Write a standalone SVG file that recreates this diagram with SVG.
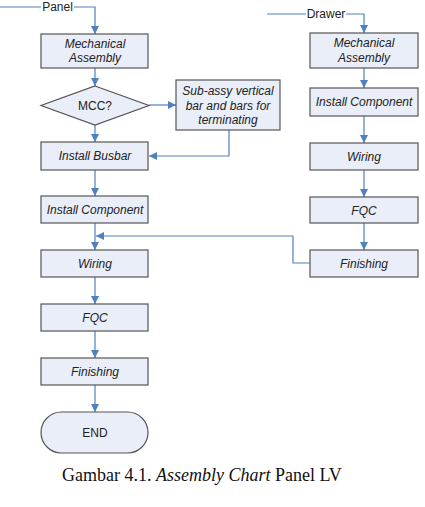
<svg xmlns="http://www.w3.org/2000/svg" width="425" height="507" viewBox="0 0 425 507">
<style>
.box{fill:#e9eef8;stroke:#555;stroke-width:1.2}
.t{font-family:"Liberation Sans",Arial,sans-serif;font-size:12px;fill:#222;text-anchor:middle}
.i{font-style:italic}
.c{fill:none;stroke:#4f81bd;stroke-width:1.2}
.cap{font-family:"Liberation Serif","Times New Roman",serif;font-size:18px;fill:#111}
</style>
<defs>
<marker id="a" viewBox="0 0 10 10" refX="10" refY="5" markerWidth="8" markerHeight="8" markerUnits="userSpaceOnUse" orient="auto">
<path d="M0,0 L10,5 L0,10 z" fill="#4f81bd"/>
</marker>
</defs>
<rect width="425" height="507" fill="#fff"/>
<g id="connectors">
<path class="c" d="M0,7 H41 M74,7 H95 V34" marker-end="url(#a)"/>
<path class="c" d="M95,68 V86" marker-end="url(#a)"/>
<path class="c" d="M149,105 H176" marker-end="url(#a)"/>
<path class="c" d="M95,125 V142" marker-end="url(#a)"/>
<path class="c" d="M229,130 V156 H149" marker-end="url(#a)"/>
<path class="c" d="M95,170 V196" marker-end="url(#a)"/>
<path class="c" d="M95,223 V250" marker-end="url(#a)"/>
<path class="c" d="M310,263 H293 V236 H96" marker-end="url(#a)"/>
<path class="c" d="M95,277 V304" marker-end="url(#a)"/>
<path class="c" d="M95,331 V358" marker-end="url(#a)"/>
<path class="c" d="M95,385 V412" marker-end="url(#a)"/>
<path class="c" d="M267,14 H306 M346,14 H364 V33" marker-end="url(#a)"/>
<path class="c" d="M364,68 V88" marker-end="url(#a)"/>
<path class="c" d="M364,116 V143" marker-end="url(#a)"/>
<path class="c" d="M364,170 V197" marker-end="url(#a)"/>
<path class="c" d="M364,223 V250" marker-end="url(#a)"/>
</g>
<g id="label-panel"><text class="t" x="57.5" y="11">Panel</text></g>
<g id="label-drawer"><text class="t" x="326" y="18">Drawer</text></g>
<g id="p-mech"><rect class="box" x="41" y="34" width="107" height="34"/><text class="t i" x="95" y="47.5">Mechanical</text><text class="t i" x="95" y="62">Assembly</text></g>
<g id="p-mcc"><polygon class="box" points="95,86 149,105.5 95,125 41,105.5"/><text class="t" x="95" y="110">MCC?</text></g>
<g id="p-subassy"><rect class="box" x="176" y="80" width="104" height="50"/><text class="t i" x="228" y="95">Sub-assy vertical</text><text class="t i" x="228" y="109.5">bar and bars for</text><text class="t i" x="228" y="124">terminating</text></g>
<g id="p-busbar"><rect class="box" x="41" y="142" width="107" height="28"/><text class="t i" x="95" y="160">Install Busbar</text></g>
<g id="p-comp"><rect class="box" x="41" y="196" width="107" height="27"/><text class="t i" x="95" y="214">Install Component</text></g>
<g id="p-wiring"><rect class="box" x="41" y="250" width="107" height="27"/><text class="t i" x="95" y="268">Wiring</text></g>
<g id="p-fqc"><rect class="box" x="41" y="304" width="107" height="27"/><text class="t i" x="95" y="322">FQC</text></g>
<g id="p-finish"><rect class="box" x="41" y="358" width="107" height="27"/><text class="t i" x="95" y="376">Finishing</text></g>
<g id="p-end"><rect class="box" x="41" y="412" width="107" height="41" rx="20.5" ry="20.5"/><text class="t" x="95" y="437">END</text></g>
<g id="d-mech"><rect class="box" x="310" y="33" width="108" height="35"/><text class="t i" x="364" y="47">Mechanical</text><text class="t i" x="364" y="61.5">Assembly</text></g>
<g id="d-comp"><rect class="box" x="310" y="88" width="108" height="28"/><text class="t i" x="364" y="106">Install Component</text></g>
<g id="d-wiring"><rect class="box" x="310" y="143" width="108" height="27"/><text class="t i" x="364" y="161">Wiring</text></g>
<g id="d-fqc"><rect class="box" x="310" y="197" width="108" height="26"/><text class="t i" x="364" y="214.5">FQC</text></g>
<g id="d-finish"><rect class="box" x="310" y="250" width="108" height="27"/><text class="t i" x="364" y="268">Finishing</text></g>
<text class="cap" x="62" y="481">Gambar 4.1. <tspan font-style="italic">Assembly Chart</tspan> Panel LV</text>
</svg>
